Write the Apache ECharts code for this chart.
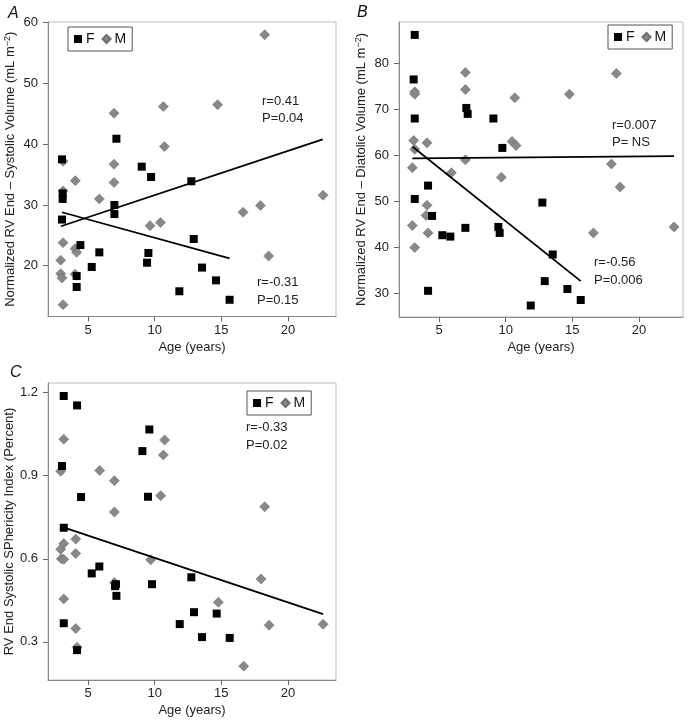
<!DOCTYPE html>
<html>
<head>
<meta charset="utf-8">
<script src="https://cdn.jsdelivr.net/npm/echarts@6/dist/echarts.min.js"></script>
<style>
html,body{margin:0;padding:0;background:#fff;}
#chart{width:690px;height:720px;}
</style>
</head>
<body>
<div id="chart"></div>
<script>
// ---------- Data ----------
// Panel A: Normalized RV End-Systolic Volume vs Age
const ageA_F = [3.05,3.1,3.1,3.05,4.15,4.15,4.43,5.28,5.85,6.98,6.98,7.13,9.03,9.73,9.43,9.53,11.85,12.75,12.93,13.55,14.6,15.62];
const valA_F = [37.5,31.9,31.0,27.6,18.3,16.5,23.4,19.8,22.2,30.0,28.5,40.9,36.3,34.6,20.5,22.1,15.8,33.9,24.4,19.7,17.6,14.4];
const ageA_M = [3.13,3.13,3.13,2.95,2.95,3.05,3.13,4.05,4.03,4.15,4.03,5.85,6.95,6.95,6.95,9.65,10.43,10.65,10.73,14.72,16.63,17.93,18.25,18.55,22.63];
const valA_M = [37.2,32.3,23.8,20.9,18.7,18.0,13.6,34.0,22.8,22.2,18.6,31.0,45.1,36.7,33.7,26.6,27.1,46.2,39.6,46.5,28.8,29.9,58.0,21.6,31.6];
const fitA_M = [[2.97,26.5],[22.6,40.8]];
const fitA_F = [[3.05,28.8],[15.62,21.2]];

// Panel B: Normalized RV End-Diastolic Volume vs Age
const ageB_F = [3.18,3.1,3.18,3.18,4.18,4.18,4.48,5.25,5.85,6.98,7.05,7.15,9.08,9.75,9.45,9.55,11.88,12.75,12.93,13.53,14.63,15.63];
const valB_F = [86.2,76.5,68.0,50.5,53.4,30.5,46.8,42.6,42.3,44.2,70.3,69.0,68.0,61.6,44.4,43.1,27.3,49.7,32.6,38.4,30.9,28.5];
const ageB_M = [3.18,3.18,3.1,3.18,3.0,3.0,3.18,4.1,4.1,4.03,4.18,5.93,6.98,6.98,6.98,9.68,10.48,10.78,10.68,14.78,16.58,17.93,18.3,18.58,22.63];
const valB_M = [73.8,73.3,63.2,61.3,57.3,44.7,39.9,62.7,49.1,46.9,43.1,56.2,78.0,74.3,59.0,55.2,63.0,62.1,72.5,73.3,43.1,58.1,77.8,53.1,44.4];
const fitB_M = [[3.0,59.3],[22.63,59.8]];
const fitB_F = [[3.0,61.9],[15.63,32.6]];

// Panel C: RV End Systolic Sphericity Index vs Age
const ageC_F = [3.18,4.18,3.05,3.18,3.18,4.18,4.48,5.28,5.85,7.03,7.1,7.13,9.08,9.6,9.5,9.8,11.88,12.75,12.95,13.55,14.65,15.63];
const valC_F = [1.188,1.154,0.935,0.712,0.367,0.270,0.823,0.547,0.572,0.501,0.508,0.466,0.989,1.067,0.824,0.508,0.364,0.533,0.407,0.317,0.402,0.314];
const ageC_M = [3.18,2.95,2.95,3.18,3.0,3.18,3.18,4.08,4.08,4.08,4.18,5.88,6.98,6.98,6.98,9.7,10.45,10.65,10.75,14.78,16.68,17.98,18.25,18.58,22.63];
const valC_M = [1.032,0.916,0.634,0.655,0.600,0.598,0.455,0.671,0.619,0.348,0.280,0.919,0.882,0.769,0.514,0.596,0.828,0.975,1.029,0.443,0.212,0.527,0.788,0.360,0.363];
const fitC = [[3.05,0.715],[22.63,0.40]];

// Tick labels
const xTicks = [5,10,15,20];
const yTicksA = [20,30,40,50,60];
const yTicksB = [30,40,50,60,70,80];
const yTicksC = [0.3,0.6,0.9,1.2];

// Text
const xTitle = 'Age (years)';
const yTitleA = 'Normalized RV End \u2013 Systolic Volume (mL m{sup|\u22122})';
const yTitleB = 'Normalized RV End \u2013 Diatolic Volume (mL m{sup|\u22122})';
const yTitleC = 'RV End Systolic SPhericity Index (Percent)';
const notes = [
  ['r=0.41', 262, 95], ['P=0.04', 262, 112],
  ['r=-0.31', 257, 276], ['P=0.15', 257, 294],
  ['r=0.007', 612, 119], ['P= NS', 612, 136],
  ['r=-0.56', 594, 256], ['P=0.006', 594, 274],
  ['r=-0.33', 246, 421], ['P=0.02', 246, 439]
];
const panelLetters = [['A', 8, 6], ['B', 357, 5], ['C', 10, 365]];

// ---------- Chart ----------
const FONT = "'Liberation Sans', Arial, Helvetica, sans-serif";
const zip = (a, b) => a.map((v, i) => [v, b[i]]);

const grids = [
  {left: 48, top: 22, width: 288, height: 294.5},
  {left: 399, top: 22, width: 284, height: 295},
  {left: 48, top: 383, width: 288, height: 297}
];

function xAxis(gi, min, max) {
  return {
    type: 'value', gridIndex: gi, min: min, max: max,
    name: xTitle, nameLocation: 'middle', nameGap: 24,
    nameTextStyle: {fontFamily: FONT, fontSize: 13, color: '#222'},
    axisLine: {show: true, lineStyle: {color: '#888', width: 1}},
    axisTick: {show: true, length: 5, customValues: xTicks, lineStyle: {color: '#666'}},
    axisLabel: {customValues: xTicks, margin: 7, fontFamily: FONT, fontSize: 13, color: '#222'},
    splitLine: {show: false}
  };
}
function yAxis(gi, min, max, ticks, title, fmt) {
  return {
    type: 'value', gridIndex: gi, min: min, max: max,
    name: title, nameLocation: 'middle', nameGap: 31,
    nameTextStyle: {fontFamily: FONT, fontSize: 13, color: '#222',
      rich: {sup: {fontFamily: FONT, fontSize: 9, color: '#222', verticalAlign: 'top', lineHeight: 14}}},
    axisLine: {show: true, lineStyle: {color: '#888', width: 1}},
    axisTick: {show: true, length: 5, customValues: ticks, lineStyle: {color: '#666'}},
    axisLabel: {customValues: ticks, margin: 10, fontFamily: FONT, fontSize: 13, color: '#222',
      formatter: fmt || (v => String(v))},
    splitLine: {show: false}
  };
}

function scatterF(gi, ages, vals) {
  return {type: 'scatter', name: 'F', xAxisIndex: gi, yAxisIndex: gi, data: zip(ages, vals),
    symbol: 'rect', symbolSize: 8, itemStyle: {color: '#000', opacity: 1}, z: 3};
}
function scatterM(gi, ages, vals) {
  return {type: 'scatter', name: 'M', xAxisIndex: gi, yAxisIndex: gi, data: zip(ages, vals),
    symbol: 'diamond', symbolSize: 10, itemStyle: {color: '#888', borderColor: '#6f6f6f', borderWidth: 0.6, opacity: 1}, z: 2};
}
function fitLine(gi, pts, id) {
  return {type: 'line', name: id, xAxisIndex: gi, yAxisIndex: gi, data: pts, symbol: 'none',
    lineStyle: {color: '#000', width: 1.8}, z: 4, silent: true};
}
function legend(left, top) {
  return {
    left: left, top: top, orient: 'horizontal',
    data: [{name: 'F', icon: 'rect'}, {name: 'M', icon: 'diamond'}],
    itemWidth: 8, itemHeight: 8, itemGap: 7,
    padding: [5, 6], borderColor: '#555', borderWidth: 1,
    textStyle: {fontFamily: FONT, fontSize: 14, color: '#111', padding: [0, 0, 0, -1]},
    selectedMode: false
  };
}

const graphics = notes.map(n => ({
  type: 'text', left: n[1], top: n[2],
  style: {text: n[0], font: '13px ' + FONT, fill: '#222'}
})).concat(panelLetters.map(p => ({
  type: 'text', left: p[1], top: p[2],
  style: {text: p[0], font: 'italic 16px ' + FONT, fill: '#111'}
})));

const option = {
  animation: false,
  backgroundColor: '#fff',
  grid: grids.map(g => Object.assign({show: true, borderColor: '#bbb', borderWidth: 1, backgroundColor: 'transparent'}, g)),
  xAxis: [xAxis(0, 2, 23.6), xAxis(1, 2, 23.3), xAxis(2, 2, 23.6)],
  yAxis: [
    yAxis(0, 11.65, 60.1, yTicksA, yTitleA),
    yAxis(1, 24.8, 89.0, yTicksB, yTitleB),
    yAxis(2, 0.162, 1.235, yTicksC, yTitleC, v => v.toFixed(1))
  ],
  legend: [legend(68, 27), legend(608, 25), legend(247, 391)],
  series: [
    scatterM(0, ageA_M, valA_M), scatterF(0, ageA_F, valA_F),
    fitLine(0, fitA_M, 'fitAM'), fitLine(0, fitA_F, 'fitAF'),
    scatterM(1, ageB_M, valB_M), scatterF(1, ageB_F, valB_F),
    fitLine(1, fitB_M, 'fitBM'), fitLine(1, fitB_F, 'fitBF'),
    scatterM(2, ageC_M, valC_M), scatterF(2, ageC_F, valC_F),
    fitLine(2, fitC, 'fitC')
  ],
  graphic: graphics
};

const chart = echarts.init(document.getElementById('chart'), null, {renderer: 'canvas'});
chart.setOption(option);
</script>
</body>
</html>
